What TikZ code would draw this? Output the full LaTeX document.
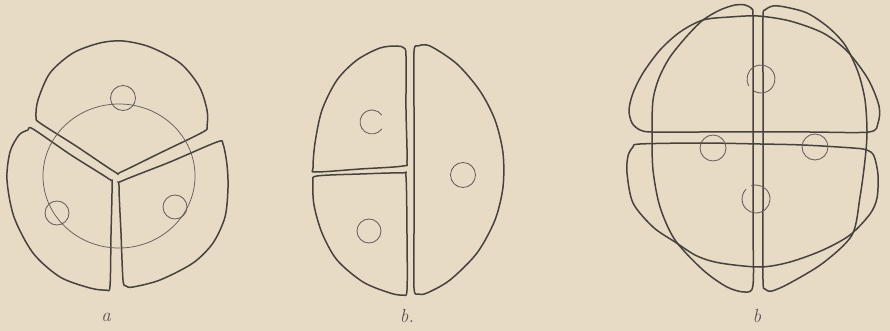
\documentclass[tikz,border=0pt]{standalone}
\begin{document}
\definecolor{paper}{HTML}{E8DBC6}
\definecolor{ink}{HTML}{47423D}
\tikzset{
  wall/.style={draw=ink, line width=1.5pt, line join=round},
  ring/.style={draw=ink!85, line width=0.75pt},
  nucleus/.style={draw=ink!85, line width=0.85pt},
  caption/.style={font=\fontsize{19}{22}\selectfont\itshape, text=ink!90, inner sep=0pt},
  blob/.style={smooth cycle, tension=0.5}
}
\begin{tikzpicture}[x=1pt, y=-1pt]
  % sheet
  \fill[paper] (0,0) rectangle (890,331);
  \useasboundingbox (0,0) rectangle (890,331);

  % ---------- a: three cells ----------
  \draw[wall] plot[blob] coordinates {(36,117) (38,100) (50,73) (73,53) (100,43) (123,41) (150,47) (180,63) (199,86) (207,110) (207,126) (203,132) (160,153) (121,172) (115,172) (76,146) (40,123)};
  \draw[wall] plot[blob] coordinates {(28,130) (33,129) (71,155) (109,179) (112,184) (111,235) (110,286) (106,290) (90,288) (60,277) (33,253) (14,217) (7,180) (10,152) (19,135)};
  \draw[wall] plot[blob] coordinates {(119,186) (122,181) (170,162) (217,142) (223,144) (227,165) (228,188) (225,217) (213,243) (193,263) (160,280) (133,287) (126,286) (123,280) (121,233)};
  \draw[ring] (119,176) ellipse[x radius=76, y radius=72];
  \draw[nucleus] (123,98) circle[radius=12.5];
  \draw[nucleus] (57,213) circle[radius=12];
  \draw[nucleus] (175,207) circle[radius=12];
  \node[caption] (labA) at (106,317) {a};

  % ---------- b.: three cells ----------
  \draw[wall] plot[blob] coordinates {(397,46) (404,48) (406,56) (406,110) (407,160) (403,166) (360,169) (316,172) (313,168) (315,143) (322,110) (337,80) (357,60) (380,48)};
  \draw[wall] plot[blob] coordinates {(313,182) (317,176) (360,174) (402,173) (406,177) (407,235) (407,290) (403,295) (390,293) (363,282) (337,260) (322,233) (314,205)};
  \draw[wall] plot[blob] coordinates {(414,52) (418,46) (430,46) (457,64) (480,91) (495,120) (503,153) (503,187) (495,220) (477,253) (450,280) (427,293) (418,294) (414,288) (414,230) (414,170) (414,110)};
  \draw[nucleus] (372,122) ++(35:12) arc[start angle=35, end angle=325, radius=12];
  \draw[nucleus] (463,175) circle[radius=12.5];
  \draw[nucleus] (369,231) circle[radius=12];
  \node[caption] (labB) at (407,316) {b.};

  % ---------- b: four cells seen in two planes ----------
  % upper and lower pair
  \draw[wall] plot[blob] coordinates {(652,132) (640,130) (632,123) (629,110) (633,93) (643,73) (660,50) (680,32) (703,20) (730,17) (758,16) (790,21) (823,33) (847,51) (868,79) (879,106) (878,123) (869,132) (810,132) (758,132) (700,132)};
  \draw[wall] plot[blob] coordinates {(640,144) (700,143) (760,144) (803,145) (853,148) (867,150) (874,156) (878,175) (877,198) (870,214) (850,235) (823,250) (790,262) (760,267) (720,263) (697,256) (675,242) (653,227) (633,203) (627,173) (628,156) (633,147)};
  % left and right pair
  \draw[wall] plot[blob] coordinates {(753,80) (753,17) (752,9) (745,5) (735,5) (720,10) (703,20) (687,36) (670,57) (659,78) (653,100) (652,132) (653,170) (660,207) (675,240) (703,270) (727,287) (745,292) (753,285) (753,230) (753,150)};
  \draw[wall] plot[blob] coordinates {(763,80) (763,17) (765,10) (773,6) (785,7) (807,13) (828,27) (845,45) (858,72) (865,100) (867,132) (865,160) (860,197) (852,235) (823,263) (790,283) (772,291) (765,289) (763,280) (763,200) (763,140)};
  \draw[nucleus] (761,79) ++(150:14) arc[start angle=150, end angle=480, radius=14];
  \draw[nucleus] (713,148) circle[radius=13];
  \draw[nucleus] (815,147) circle[radius=13];
  \draw[nucleus] (756,199) ++(250:14) arc[start angle=250, end angle=585, radius=14];
  \node[caption] (labC) at (757,316) {b};
\end{tikzpicture}
\end{document}
